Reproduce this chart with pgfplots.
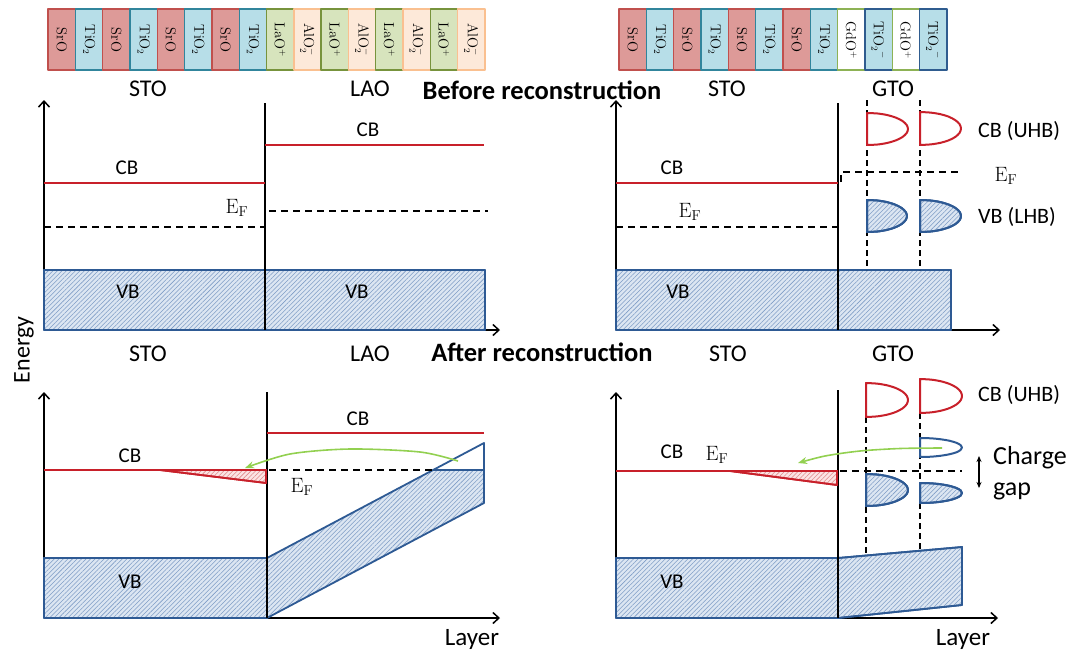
\documentclass[border=0pt]{standalone}
\usepackage{pgfplots}
\pgfplotsset{compat=1.18}
\usepackage[no-math]{fontspec}
\setmainfont{Carlito}
\usetikzlibrary{patterns.meta,arrows.meta}
\definecolor{sroF}{HTML}{DD9A98}
\definecolor{sroB}{HTML}{C0504D}
\definecolor{tioF}{HTML}{B7DEE8}
\definecolor{tioB}{HTML}{31859C}
\definecolor{laoF}{HTML}{D7E4BD}
\definecolor{laoB}{HTML}{77933C}
\definecolor{aloF}{HTML}{FDE9D9}
\definecolor{aloB}{HTML}{FAC090}
\definecolor{gdoB}{HTML}{8DB255}
\definecolor{tiomB}{HTML}{2F5C8F}
\definecolor{cbred}{HTML}{C8202A}
\definecolor{vbblue}{HTML}{2E5A94}
\definecolor{hbg}{HTML}{DCE6F2}
\definecolor{hln}{HTML}{7F9DC6}
\definecolor{rbg}{HTML}{FBE4E4}
\definecolor{rln}{HTML}{E08A8A}
\definecolor{grn}{HTML}{92D050}
\begin{document}
\begin{tikzpicture}
\begin{axis}[
  scale only axis, width=1083pt, height=654pt,
  xmin=0, xmax=1083, ymin=0, ymax=654, y dir=reverse,
  axis lines=none, clip=false, no markers,
  every axis plot/.append style={line join=round},
  blk/.style={line width=1.4pt},
  sro/.style={blk, fill=sroF, draw=sroB},
  tio/.style={blk, fill=tioF, draw=tioB},
  lao/.style={blk, fill=laoF, draw=laoB},
  alo/.style={blk, fill=aloF, draw=aloB},
  gdo/.style={blk, fill=white, draw=gdoB},
  tiom/.style={blk, fill=tioF, draw=tiomB},
  ax/.style={draw=black, line width=1.5pt, -{Straight Barb[length=6pt,width=11pt,line width=1.5pt]}},
  iface/.style={draw=black, line width=1.5pt},
  cb/.style={draw=cbred, line width=2pt},
  ef/.style={draw=black, line width=1.6pt, dash pattern=on 7pt off 5pt},
  vdash/.style={draw=black, line width=1.3pt, dash pattern=on 6pt off 4pt},
  vbh/.style={fill=hbg, postaction={pattern={Lines[angle=45,distance=3.2pt,line width=0.55pt]}, pattern color=hln}},
  rh/.style={fill=rbg, postaction={pattern={Lines[angle=45,distance=3.2pt,line width=0.55pt]}, pattern color=rln}},
  vbline/.style={draw=vbblue, line width=1.8pt},
  dome/.style={smooth, tension=0.5, line width=2pt},
]
% invisible frame: keeps the picture at the full 1083 x 654 size
\addplot[draw=none] coordinates {(0,0)(1083,654)};
% ---------- top strip left ----------
\addplot[sro]  coordinates {(48,9)(75.3,9)(75.3,70)(48,70)} -- cycle;
\addplot[tio]  coordinates {(75.3,9)(102.6,9)(102.6,70)(75.3,70)} -- cycle;
\addplot[sro]  coordinates {(102.6,9)(129.9,9)(129.9,70)(102.6,70)} -- cycle;
\addplot[tio]  coordinates {(129.9,9)(157.3,9)(157.3,70)(129.9,70)} -- cycle;
\addplot[sro]  coordinates {(157.3,9)(184.6,9)(184.6,70)(157.3,70)} -- cycle;
\addplot[tio]  coordinates {(184.6,9)(211.9,9)(211.9,70)(184.6,70)} -- cycle;
\addplot[sro]  coordinates {(211.9,9)(239.2,9)(239.2,70)(211.9,70)} -- cycle;
\addplot[tio]  coordinates {(239.2,9)(266.5,9)(266.5,70)(239.2,70)} -- cycle;
\addplot[lao]  coordinates {(266.5,9)(293.8,9)(293.8,70)(266.5,70)} -- cycle;
\addplot[alo]  coordinates {(293.8,9)(321.1,9)(321.1,70)(293.8,70)} -- cycle;
\addplot[lao]  coordinates {(321.1,9)(348.4,9)(348.4,70)(321.1,70)} -- cycle;
\addplot[alo]  coordinates {(348.4,9)(375.7,9)(375.7,70)(348.4,70)} -- cycle;
\addplot[lao]  coordinates {(375.7,9)(403.1,9)(403.1,70)(375.7,70)} -- cycle;
\addplot[alo]  coordinates {(403.1,9)(430.4,9)(430.4,70)(403.1,70)} -- cycle;
\addplot[lao]  coordinates {(430.4,9)(457.7,9)(457.7,70)(430.4,70)} -- cycle;
\addplot[alo]  coordinates {(457.7,9)(485,9)(485,70)(457.7,70)} -- cycle;
% ---------- top strip right ----------
\addplot[sro]  coordinates {(619,9)(646.3,9)(646.3,70)(619,70)} -- cycle;
\addplot[tio]  coordinates {(646.3,9)(673.7,9)(673.7,70)(646.3,70)} -- cycle;
\addplot[sro]  coordinates {(673.7,9)(701,9)(701,70)(673.7,70)} -- cycle;
\addplot[tio]  coordinates {(701,9)(728.3,9)(728.3,70)(701,70)} -- cycle;
\addplot[sro]  coordinates {(728.3,9)(755.7,9)(755.7,70)(728.3,70)} -- cycle;
\addplot[tio]  coordinates {(755.7,9)(783,9)(783,70)(755.7,70)} -- cycle;
\addplot[sro]  coordinates {(783,9)(810.3,9)(810.3,70)(783,70)} -- cycle;
\addplot[tio]  coordinates {(810.3,9)(837.7,9)(837.7,70)(810.3,70)} -- cycle;
\addplot[gdo]  coordinates {(837.7,9)(865,9)(865,70)(837.7,70)} -- cycle;
\addplot[tiom] coordinates {(865,9)(892.3,9)(892.3,70)(865,70)} -- cycle;
\addplot[gdo]  coordinates {(892.3,9)(919.7,9)(919.7,70)(892.3,70)} -- cycle;
\addplot[tiom] coordinates {(919.7,9)(947,9)(947,70)(919.7,70)} -- cycle;
% block labels
\begin{scope}[every node/.style={rotate=-90, font=\fontsize{13.5}{15}\selectfont, inner sep=0pt}]
\node at (axis cs:61.7,40) {$\mathrm{SrO}$};
\node at (axis cs:89.0,40) {$\mathrm{TiO_2}$};
\node at (axis cs:116.3,40) {$\mathrm{SrO}$};
\node at (axis cs:143.6,40) {$\mathrm{TiO_2}$};
\node at (axis cs:170.9,40) {$\mathrm{SrO}$};
\node at (axis cs:198.2,40) {$\mathrm{TiO_2}$};
\node at (axis cs:225.6,40) {$\mathrm{SrO}$};
\node at (axis cs:252.9,40) {$\mathrm{TiO_2}$};
\node at (axis cs:280.2,40) {$\mathrm{LaO^+}$};
\node at (axis cs:307.5,40) {$\mathrm{AlO_2^-}$};
\node at (axis cs:334.8,40) {$\mathrm{LaO^+}$};
\node at (axis cs:362.1,40) {$\mathrm{AlO_2^-}$};
\node at (axis cs:389.4,40) {$\mathrm{LaO^+}$};
\node at (axis cs:416.7,40) {$\mathrm{AlO_2^-}$};
\node at (axis cs:444.0,40) {$\mathrm{LaO^+}$};
\node at (axis cs:471.3,40) {$\mathrm{AlO_2^-}$};
\node at (axis cs:632.7,40) {$\mathrm{SrO}$};
\node at (axis cs:660.0,40) {$\mathrm{TiO_2}$};
\node at (axis cs:687.3,40) {$\mathrm{SrO}$};
\node at (axis cs:714.7,40) {$\mathrm{TiO_2}$};
\node at (axis cs:742.0,40) {$\mathrm{SrO}$};
\node at (axis cs:769.3,40) {$\mathrm{TiO_2}$};
\node at (axis cs:796.7,40) {$\mathrm{SrO}$};
\node at (axis cs:824.0,40) {$\mathrm{TiO_2}$};
\node at (axis cs:851.3,40) {$\mathrm{GdO^+}$};
\node at (axis cs:878.7,40) {$\mathrm{TiO_2}^-$};
\node at (axis cs:906.0,40) {$\mathrm{GdO^+}$};
\node at (axis cs:933.3,40) {$\mathrm{TiO_2}^-$};
\end{scope}

% ================= Panel 1 (top left) =================
\addplot[ax] coordinates {(44,330)(44,100)};
\addplot[ax] coordinates {(44,330)(500,330)};
\addplot[vbh, vbline] coordinates {(44,270)(485,270)(485,330)(44,330)} -- cycle;
\addplot[iface] coordinates {(265,103)(265,330)};
\addplot[cb] coordinates {(44,183)(265,183)};
\addplot[cb] coordinates {(265,145)(484,145)};
\addplot[ef] coordinates {(44,227)(265,227)};
\addplot[ef] coordinates {(269,211)(488,211)};

% ================= Panel 2 (top right) =================
\addplot[ax] coordinates {(616,330)(616,100)};
\addplot[ax] coordinates {(616,330)(1000,330)};
\addplot[vbh, vbline] coordinates {(616,270)(951,270)(951,330)(616,330)} -- cycle;
\addplot[iface] coordinates {(838,103)(838,330)};
\addplot[cb] coordinates {(616,183)(838,183)};
\addplot[ef] coordinates {(616,227)(838,227)};
\addplot[ef] coordinates {(841,182)(841,172)(960,172)};
\addplot[vdash] coordinates {(867,100)(867,270)};
\addplot[vdash] coordinates {(920,100)(920,270)};
\addplot[dome, draw=cbred, fill=white] coordinates {(867,113)(877.6,113.5)(887.5,115.1)(896,117.7)(902.5,121)(906.6,124.9)(908,129)(906.6,133.1)(902.5,137)(896,140.3)(887.5,142.9)(877.6,144.5)(867,145)} -- cycle;
\addplot[dome, draw=cbred, fill=white] coordinates {(920,112)(930.6,112.6)(940.5,114.2)(949,116.8)(955.5,120.3)(959.6,124.2)(961,128.5)(959.6,132.8)(955.5,136.8)(949,140.2)(940.5,142.8)(930.6,144.4)(920,145)} -- cycle;
\addplot[dome, draw=vbblue, vbh] coordinates {(867,200)(877.4,200.5)(887,202.1)(895.3,204.7)(901.6,208)(905.6,211.9)(907,216)(905.6,220.1)(901.6,224)(895.3,227.3)(887,229.9)(877.4,231.5)(867,232)} -- cycle;
\addplot[dome, draw=vbblue, vbh] coordinates {(920,200)(930.6,200.5)(940.5,202.1)(949,204.7)(955.5,208)(959.6,211.9)(961,216)(959.6,220.1)(955.5,224)(949,227.3)(940.5,229.9)(930.6,231.5)(920,232)} -- cycle;

% ================= Panel 3 (bottom left) =================
\addplot[ax] coordinates {(44,618)(44,392)};
\addplot[ax] coordinates {(44,618)(500,618)};
\addplot[vbh, vbline] coordinates {(44,558)(267,558)(267,618)(44,618)} -- cycle;
\addplot[vbh, draw=none] coordinates {(267,618)(267,558)(433,470)(484,470)(484,503)} -- cycle;
\addplot[vbline] coordinates {(267,618)(484,503)(484,443)(267,558)} -- cycle;
\addplot[vbline] coordinates {(433,470)(484,470)};
\addplot[iface] coordinates {(267,392)(267,618)};
\addplot[cb] coordinates {(44,470)(267,470)};
\addplot[rh, draw=cbred, line width=1.8pt] coordinates {(160,470)(266,470)(266,483)} -- cycle;
\addplot[cb] coordinates {(267,433)(484,433)};
\addplot[ef] coordinates {(269,470)(433,470)};
\addplot[draw=grn, line width=1.6pt, smooth, -{Stealth[length=9pt,width=7pt]}] coordinates {(458,461)(420,452)(350,449)(290,454)(245,468)};

% ================= Panel 4 (bottom right) =================
\addplot[ax] coordinates {(616,618)(616,392)};
\addplot[ax] coordinates {(616,618)(998,618)};
\addplot[vbh, vbline] coordinates {(616,558)(838,558)(838,618)(616,618)} -- cycle;
\addplot[vbh, vbline] coordinates {(838,558)(962,547)(962,605)(838,618)} -- cycle;
\addplot[iface] coordinates {(838,390)(838,618)};
\addplot[cb] coordinates {(616,471)(838,471)};
\addplot[rh, draw=cbred, line width=1.8pt] coordinates {(730,471)(837,471)(837,485)} -- cycle;
\addplot[ef] coordinates {(840,471)(962,471)};
\addplot[vdash] coordinates {(866,417)(866,554)};
\addplot[vdash] coordinates {(920,413)(920,549)};
\addplot[dome, draw=cbred, fill=white] coordinates {(866,383)(876.9,383.6)(887,385.3)(895.7,388)(902.4,391.5)(906.6,395.6)(908,400)(906.6,404.4)(902.4,408.5)(895.7,412)(887,414.7)(876.9,416.4)(866,417)} -- cycle;
\addplot[dome, draw=cbred, fill=white] coordinates {(920,379)(930.9,379.6)(941,381.3)(949.7,384)(956.4,387.5)(960.6,391.6)(962,396)(960.6,400.4)(956.4,404.5)(949.7,408)(941,410.7)(930.9,412.4)(920,413)} -- cycle;
\addplot[dome, draw=vbblue, fill=white] coordinates {(920,438)(930.9,438.3)(941,439.3)(949.7,440.8)(956.4,442.8)(960.6,445.1)(962,447.5)(960.6,449.9)(956.4,452.3)(949.7,454.2)(941,455.7)(930.9,456.7)(920,457)} -- cycle;
\addplot[dome, draw=vbblue, vbh] coordinates {(866,474)(876.9,474.5)(887,476.1)(895.7,478.7)(902.4,482)(906.6,485.9)(908,490)(906.6,494.1)(902.4,498)(895.7,501.3)(887,503.9)(876.9,505.5)(866,506)} -- cycle;
\addplot[dome, draw=vbblue, vbh] coordinates {(920,483)(930.9,483.3)(941,484.3)(949.7,485.9)(956.4,488)(960.6,490.4)(962,493)(960.6,495.6)(956.4,498)(949.7,500.1)(941,501.7)(930.9,502.7)(920,503)} -- cycle;
\addplot[draw=grn, line width=1.6pt, smooth, -{Stealth[length=9pt,width=7pt]}] coordinates {(942,448)(900,448.5)(860,451)(825,456)(798,463)};
\addplot[draw=black, line width=1.3pt, {Stealth[length=6pt,width=5pt]}-{Stealth[length=6pt,width=5pt]}] coordinates {(979,456)(979,488)};

% ================= Text =================
\begin{scope}[every node/.style={inner sep=0pt}]
\node[font=\fontsize{24}{28}\selectfont] at (axis cs:148,89) {STO};
\node[font=\fontsize{24}{28}\selectfont] at (axis cs:370,89) {LAO};
\node[font=\fontsize{24}{28}\selectfont] at (axis cs:727,89) {STO};
\node[font=\fontsize{24}{28}\selectfont] at (axis cs:893,89) {GTO};
\node[font=\fontsize{24}{28}\selectfont] at (axis cs:148,354) {STO};
\node[font=\fontsize{24}{28}\selectfont] at (axis cs:370,354) {LAO};
\node[font=\fontsize{24}{28}\selectfont] at (axis cs:728,354) {STO};
\node[font=\fontsize{24}{28}\selectfont] at (axis cs:893,354) {GTO};
\node[font=\bfseries\fontsize{26.5}{30}\selectfont] at (axis cs:542,90) {Before reconstruction};
\node[font=\bfseries\fontsize{26.5}{30}\selectfont] at (axis cs:542,352) {After reconstruction};
\node[font=\fontsize{21}{25}\selectfont] at (axis cs:127,168) {CB};
\node[font=\fontsize{21}{25}\selectfont] at (axis cs:368,130) {CB};
\node[font=\fontsize{21}{25}\selectfont] at (axis cs:128,292) {VB};
\node[font=\fontsize{21}{25}\selectfont] at (axis cs:357,292) {VB};
\node[font=\fontsize{22}{26}\selectfont] at (axis cs:237,208) {$\mathrm{E_F}$};
\node[font=\fontsize{21}{25}\selectfont] at (axis cs:672,168) {CB};
\node[font=\fontsize{21}{25}\selectfont] at (axis cs:678,292) {VB};
\node[font=\fontsize{22}{26}\selectfont] at (axis cs:690,212) {$\mathrm{E_F}$};
\node[font=\fontsize{22}{26}\selectfont] at (axis cs:1006,176) {$\mathrm{E_F}$};
\node[font=\fontsize{22}{26}\selectfont, anchor=west] at (axis cs:978,131) {CB (UHB)};
\node[font=\fontsize{22}{26}\selectfont, anchor=west] at (axis cs:978,217) {VB (LHB)};
\node[font=\fontsize{21}{25}\selectfont] at (axis cs:130,456) {CB};
\node[font=\fontsize{21}{25}\selectfont] at (axis cs:358,419) {CB};
\node[font=\fontsize{21}{25}\selectfont] at (axis cs:130,582) {VB};
\node[font=\fontsize{22}{26}\selectfont] at (axis cs:302,487) {$\mathrm{E_F}$};
\node[font=\fontsize{21}{25}\selectfont] at (axis cs:672,452) {CB};
\node[font=\fontsize{22}{26}\selectfont] at (axis cs:717,455) {$\mathrm{E_F}$};
\node[font=\fontsize{21}{25}\selectfont] at (axis cs:672,582) {VB};
\node[font=\fontsize{22}{26}\selectfont, anchor=west] at (axis cs:978,395) {CB (UHB)};
\node[font=\fontsize{26}{30}\selectfont, anchor=west] at (axis cs:993,458) {Charge};
\node[font=\fontsize{26}{30}\selectfont, anchor=west] at (axis cs:993,491) {gap};
\node[font=\fontsize{25}{29}\selectfont] at (axis cs:472,639) {Layer};
\node[font=\fontsize{25}{29}\selectfont] at (axis cs:963,639) {Layer};
\node[font=\fontsize{24}{28}\selectfont, rotate=90] at (axis cs:24,350) {Energy};
\end{scope}
\end{axis}
\end{tikzpicture}
\end{document}
